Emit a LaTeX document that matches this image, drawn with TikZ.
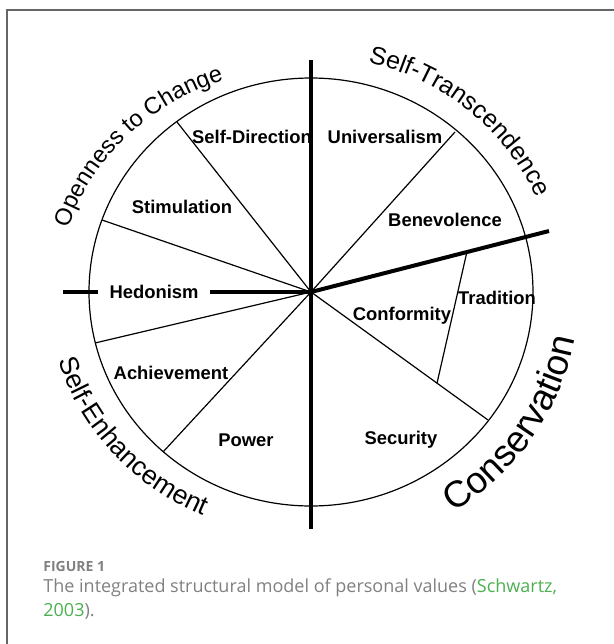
\documentclass[tikz,border=0pt]{standalone}
\usepackage{fontspec}
\setmainfont{Liberation Sans}
\newfontfamily\capfont{Open Sans}
\usetikzlibrary{calc,decorations.text}
\definecolor{framegray}{HTML}{666666}
\definecolor{capgray}{HTML}{808080}
\definecolor{capgreen}{HTML}{4CAF50}

\tikzset{
  value/.style={font=\fontsize{9.2}{11}\selectfont\bfseries, inner sep=1pt},
  spoke/.style={line width=0.6pt},
  axis/.style={line width=2pt},
  arclabel/.style={decorate, decoration={text along path, text align=center, text={#1}}},
  caption/.style={anchor=base west, inner sep=0, text=capgray, font=\capfont\fontsize{9}{10}\selectfont},
}

\begin{document}
\begin{tikzpicture}[x=5pt,y=5pt]
 		\useasboundingbox (-31.1,-35.2) rectangle (30.3,29.2);
 		\draw [framegray, line width=0.7pt] (-30.4,-35.2) -- (-30.4,28.2) -- (30.3,28.2);

 		\coordinate (c) at (0,0);
 		\draw [spoke] (c) ellipse (22.2 and 21.4);
 		\coordinate (sd) at (-13.4,17.0);
 		\coordinate (st) at (-20.9,7.2);
 		\coordinate (ha) at (-21.6,-5.1);
 		\coordinate (ap) at (-14.8,-16.0);
 		\coordinate (ub) at (14.4,16.0);
 		\coordinate (cs) at (17.7,-12.8);
 		\coordinate (top) at (0,23.2);
 		\coordinate (bot) at (0,-23.7);
 		\coordinate (left) at (-24.8,0);
 		\coordinate (right) at (23.8,6.1);

 		\foreach \p in {sd,st,ha,ap,ub,cs}
 			\draw [spoke] (c) -- (\p);
 		\draw [spoke] ($(c)!0.655!(right)$) -- ($(c)!0.712!(cs)$);

 		\node [value, inner xsep=5.5pt] (hed) at (-15.7,0) {Hedonism};
 		\draw [axis] (top) -- (bot);
 		\draw [axis] (c) -- (right);
 		\draw [axis] (left) -- (hed);
 		\draw [axis] (hed) -- (c);

 		\node [value] (dir) at (-5.9,15.5) {Self-Direction};
 		\node [value] (uni) at (7.4,15.5) {Universalism};
 		\node [value] (sti) at (-12.9,8.5) {Stimulation};
 		\node [value] (ben) at (13.4,7.2) {Benevolence};
 		\node [value] (tra) at (18.6,-0.6) {Tradition};
 		\node [value] (con) at (9.1,-2.4) {Conformity};
 		\node [value] (ach) at (-14.0,-8.1) {Achievement};
 		\node [value] (pow) at (-6.5,-14.8) {Power};
 		\node [value] (sec) at (9.0,-14.8) {Security};

 		\path [arclabel={|\fontsize{11.8}{14}\selectfont|Openness to Change}] (167:25.3 and 22.6) arc [start angle=167, end angle=107, x radius=25.3, y radius=22.6];
 		\path [arclabel={|\fontsize{12.5}{14}\selectfont|Self-Transcendence}] (80:24.6 and 23.6) arc [start angle=80, end angle=20, x radius=24.6, y radius=23.6];
 		\path [arclabel={|\fontsize{13.3}{15}\selectfont|Self-Enhancement}] (190.9:26.3 and 24.5) arc [start angle=190.9, end angle=250.9, x radius=26.3, y radius=24.5];
 		\path [arclabel={|\fontsize{18.5}{20}\selectfont|Conservation}] (-64:26.8 and 26.0) arc [start angle=-64, end angle=-4, x radius=26.8, y radius=26.0];

 		\node [caption, font=\capfont\fontsize{7}{9}\selectfont\bfseries] (fig) at (-26.8,-27.9) {FIGURE 1};
 		\node [caption] (cap1) at (-26.8,-30.0) {The integrated structural model of personal values (\textcolor{capgreen}{Schwartz,}};
 		\node [caption] (cap2) at (-26.8,-32.4) {\textcolor{capgreen}{2003}).};
 		\end{tikzpicture}
\end{document}
